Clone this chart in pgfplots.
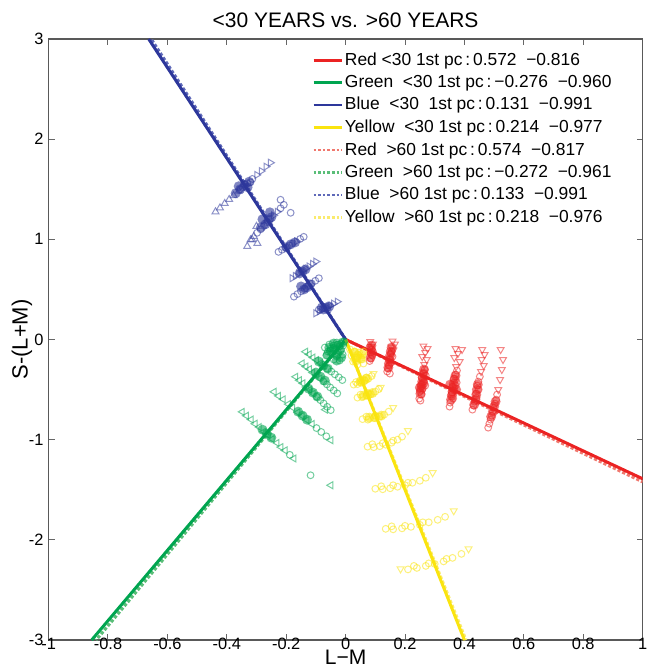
\documentclass[border=0pt]{standalone}
\usepackage{fontspec}
\setmainfont{Liberation Sans}
\usepackage{pgfplots}
\pgfplotsset{compat=1.18}
\definecolor{cR}{RGB}{235,35,35}
\definecolor{cG}{RGB}{0,165,80}
\definecolor{cB}{RGB}{45,55,155}
\definecolor{cY}{RGB}{250,228,15}
\definecolor{cRl}{RGB}{240,120,110}
\definecolor{cGl}{RGB}{90,190,120}
\definecolor{cBl}{RGB}{95,105,185}
\definecolor{cYl}{RGB}{250,235,110}
\pgfplotsset{
  mk/.style n args={2}{#1, only marks, forget plot, mark size=#2,
     mark options={draw=#1, fill=#1, draw opacity=0.55, fill opacity=0.15, line width=0.5pt}},
  core/.style n args={2}{#1, only marks, forget plot, mark=*, mark size=#2,
     mark options={draw=#1, draw opacity=0, fill=#1, fill opacity=0.6}},
}
\begin{document}
\begin{tikzpicture}
\begin{axis}[
  width=297pt, height=300.5pt, scale only axis,
  xmin=-1, xmax=1, ymin=-3, ymax=3,
  xtick={-1,-0.8,-0.6,-0.4,-0.2,0,0.2,0.4,0.6,0.8,1},
  xticklabels={-1,-0.8,-0.6,-0.4,-0.2,0,0.2,0.4,0.6,0.8,1},
  ytick={-3,-2,-1,0,1,2,3},
  yticklabels={-3,-2,-1,0,1,2,3},
  tick align=inside, major tick length=3pt,
  tick label style={font=\fontsize{8.2}{10}\selectfont},
  xticklabel style={inner sep=0.5pt, yshift=1.5pt},
  yticklabel style={xshift=1pt},
  axis line style={black!65, line width=0.6pt},
  tick style={black!60, line width=0.5pt},
  title={<30 YEARS vs. >60 YEARS},
  title style={font=\fontsize{10.5}{12}\selectfont, yshift=-4pt},
  xlabel={L−M}, ylabel={S-(L+M)},
  xlabel style={font=\fontsize{10.5}{12}\selectfont, inner sep=0pt, yshift=0.8pt},
  ylabel style={font=\fontsize{11}{13}\selectfont, yshift=-8.5pt},
  legend style={at={(0.44,0.985)}, anchor=north west, draw=none, fill=none,
     font=\fontsize{8.7}{9.5}\selectfont, row sep=1.5pt, inner sep=1pt,
     nodes={inner sep=1pt}},
  legend cell align=left,
  legend image code/.code={\draw[#1] (0cm,0cm) -- (14pt,0cm);},
]
% ---------- RED ----------
\addplot[core={cR}{2.5pt}] coordinates {
(0.087,-0.06) (0.085,-0.1) (0.088,-0.14) (0.084,-0.18)
(0.155,-0.08) (0.152,-0.12) (0.15,-0.16) (0.148,-0.2) (0.146,-0.24) (0.144,-0.28)
(0.264,-0.3) (0.262,-0.34) (0.26,-0.38) (0.258,-0.42) (0.256,-0.46) (0.254,-0.5) (0.252,-0.54) (0.262,-0.44) (0.25,-0.48)
(0.37,-0.36) (0.367,-0.4) (0.364,-0.44) (0.362,-0.48) (0.36,-0.52) (0.358,-0.56) (0.355,-0.6) (0.372,-0.5) (0.352,-0.45)
(0.445,-0.45) (0.442,-0.5) (0.44,-0.55) (0.437,-0.6) (0.433,-0.65)
(0.505,-0.62) (0.5,-0.67) (0.496,-0.72) (0.49,-0.77)
};
\addplot[mk={cR}{2pt}, mark=triangle, mark options={rotate=180, draw=cR, fill=cR, draw opacity=0.55, fill opacity=0.15, line width=0.5pt}] coordinates {
(0.083,-0.02) (0.092,-0.045) (0.086,-0.07)
(0.158,-0.015) (0.166,-0.045) (0.154,-0.075) (0.161,-0.105)
(0.262,-0.065) (0.276,-0.09) (0.268,-0.13) (0.258,-0.17) (0.273,-0.2) (0.265,-0.25)
(0.37,-0.09) (0.392,-0.1) (0.378,-0.14) (0.366,-0.18) (0.384,-0.22) (0.372,-0.27)
(0.46,-0.1) (0.468,-0.15) (0.458,-0.2) (0.465,-0.26) (0.456,-0.32)
(0.522,-0.1) (0.53,-0.2) (0.526,-0.3) (0.52,-0.4) (0.514,-0.5)
};
\addplot[mk={cR}{1.7pt}, mark=o] coordinates {
(0.088,-0.1) (0.084,-0.13) (0.09,-0.16) (0.085,-0.19) (0.081,-0.215) (0.092,-0.12) (0.08,-0.08)
(0.152,-0.14) (0.158,-0.17) (0.148,-0.2) (0.153,-0.23) (0.146,-0.26) (0.143,-0.29) (0.14,-0.32) (0.155,-0.12) (0.149,-0.34)
(0.266,-0.3) (0.262,-0.34) (0.256,-0.38) (0.264,-0.42) (0.254,-0.45) (0.26,-0.49) (0.25,-0.52) (0.256,-0.55) (0.248,-0.59) (0.27,-0.36) (0.268,-0.46) (0.252,-0.61)
(0.375,-0.31) (0.37,-0.35) (0.364,-0.39) (0.374,-0.43) (0.36,-0.47) (0.366,-0.51) (0.356,-0.55) (0.362,-0.59) (0.352,-0.63) (0.35,-0.67) (0.37,-0.46) (0.358,-0.53)
(0.452,-0.37) (0.447,-0.42) (0.443,-0.46) (0.448,-0.5) (0.439,-0.54) (0.441,-0.58) (0.434,-0.62) (0.431,-0.66) (0.427,-0.7)
(0.51,-0.55) (0.507,-0.6) (0.503,-0.64) (0.498,-0.68) (0.496,-0.72) (0.492,-0.76) (0.488,-0.8) (0.484,-0.84) (0.48,-0.88)
};
% ---------- GREEN ----------
\addplot[core={cG}{2.5pt}] coordinates {
(-0.01,-0.03) (-0.025,-0.06) (-0.04,-0.09) (-0.02,-0.11) (-0.05,-0.12) (-0.03,-0.15) (-0.015,-0.18) (-0.055,-0.08) (-0.04,-0.04) (-0.06,-0.15) (-0.03,-0.21)
(-0.09,-0.22) (-0.075,-0.26) (-0.06,-0.29) (-0.1,-0.33) (-0.085,-0.37) (-0.07,-0.41) (-0.125,-0.49) (-0.11,-0.53) (-0.095,-0.57) (-0.16,-0.72) (-0.145,-0.76) (-0.13,-0.8) (-0.28,-0.9) (-0.265,-0.94) (-0.25,-0.98)
};
\addplot[mk={cG}{2pt}, mark=triangle, mark options={rotate=90, draw=cG, fill=cG, draw opacity=0.55, fill opacity=0.15, line width=0.5pt}] coordinates {
(-0.135,-0.122) (-0.123,-0.148) (-0.11,-0.18) (-0.098,-0.205) (-0.085,-0.237) (-0.073,-0.262)
(-0.146,-0.238) (-0.134,-0.27) (-0.122,-0.296) (-0.111,-0.33) (-0.099,-0.356) (-0.087,-0.39)
(-0.168,-0.372) (-0.156,-0.407) (-0.144,-0.437) (-0.133,-0.474) (-0.121,-0.503) (-0.109,-0.54)
(-0.241,-0.522) (-0.226,-0.563) (-0.21,-0.597) (-0.193,-0.645) (-0.178,-0.679) (-0.161,-0.727) (-0.146,-0.762) (-0.13,-0.804) (-0.113,-0.844) (-0.05,-1.005)
(-0.348,-0.722) (-0.334,-0.761) (-0.318,-0.799) (-0.305,-0.841) (-0.291,-0.874) (-0.275,-0.92) (-0.261,-0.953) (-0.247,-0.994) (-0.231,-1.032) (-0.218,-1.074) (-0.204,-1.107) (-0.174,-1.188)
(-0.05,-1.455) (-0.068,-0.7)
};
\addplot[mk={cG}{1.7pt}, mark=o] coordinates {
(-0.005,-0.02) (-0.015,-0.04) (-0.03,-0.03) (-0.02,-0.07) (-0.04,-0.06) (-0.035,-0.1) (-0.05,-0.09) (-0.015,-0.1) (-0.025,-0.13) (-0.045,-0.14) (-0.06,-0.12) (-0.01,-0.15) (-0.03,-0.17) (-0.055,-0.05) (-0.07,-0.08) (-0.065,-0.16) (-0.04,-0.2) (-0.02,-0.21) (-0.008,-0.06) (-0.028,-0.05)
(-0.061,-0.292) (-0.048,-0.32) (-0.036,-0.348) (-0.023,-0.377) (-0.011,-0.405)
(-0.075,-0.418) (-0.063,-0.448) (-0.052,-0.478) (-0.04,-0.508) (-0.028,-0.538)
(-0.097,-0.572) (-0.085,-0.605) (-0.074,-0.638) (-0.062,-0.672) (-0.05,-0.705)
(-0.098,-0.884) (-0.082,-0.923) (-0.065,-0.966)
(-0.188,-1.151) (-0.118,-1.355)
};
% ---------- BLUE ----------
\addplot[core={cB}{2.5pt}] coordinates {
(-0.37,1.46) (-0.355,1.5) (-0.34,1.54) (-0.325,1.575) (-0.36,1.53) (-0.33,1.52)
(-0.27,1.15) (-0.26,1.19) (-0.25,1.22) (-0.28,1.2) (-0.255,1.27) (-0.285,1.12)
(-0.2,0.92) (-0.185,0.95) (-0.17,0.97)
(-0.155,0.66) (-0.145,0.68) (-0.135,0.7) (-0.14,0.5) (-0.13,0.52) (-0.12,0.55) (-0.15,0.53)
(-0.075,0.3) (-0.065,0.32) (-0.055,0.33) (-0.08,0.32)
};
\addplot[mk={cB}{2pt}, mark=triangle] coordinates {
(-0.438,1.275) (-0.423,1.314) (-0.407,1.358) (-0.392,1.398) (-0.377,1.437) (-0.36,1.481)
(-0.331,0.93) (-0.315,1.0) (-0.3,1.13) (-0.297,0.96) (-0.32,0.995) (-0.309,1.03)
};
\addplot[mk={cB}{2pt}, mark=triangle, mark options={rotate=-90, draw=cB, fill=cB, draw opacity=0.55, fill opacity=0.15, line width=0.5pt}] coordinates {
(-0.284,1.682) (-0.268,1.726) (-0.253,1.765) (-0.299,1.643)
(-0.18,0.612) (-0.169,0.635) (-0.157,0.66) (-0.146,0.683) (-0.134,0.707) (-0.123,0.73) (-0.111,0.755) (-0.10,0.778)
(-0.1,0.262) (-0.088,0.282) (-0.076,0.3) (-0.064,0.32) (-0.052,0.339) (-0.04,0.358) (-0.028,0.378)
(-0.242,1.24) (-0.23,1.275) (-0.165,0.98)
};
\addplot[mk={cB}{1.7pt}, mark=o] coordinates {
(-0.346,1.52) (-0.331,1.559) (-0.314,1.603) (-0.34,1.55) (-0.32,1.57) (-0.355,1.5)
(-0.298,1.065) (-0.286,1.1) (-0.275,1.135) (-0.264,1.17) (-0.253,1.205) (-0.219,1.31) (-0.208,1.345) (-0.219,1.395) (-0.185,1.265)
(-0.226,0.875) (-0.214,0.896) (-0.201,0.919) (-0.189,0.94) (-0.178,0.961) (-0.153,1.004) (-0.141,1.025)
(-0.174,0.428) (-0.162,0.454) (-0.15,0.481) (-0.138,0.507) (-0.126,0.533) (-0.114,0.559) (-0.102,0.586) (-0.09,0.612)
(-0.09,0.3) (-0.06,0.29)
};
% ---------- YELLOW ----------
\addplot[core={cY}{2.5pt}] coordinates {
(0.03,-0.13) (0.04,-0.16) (0.05,-0.19) (0.035,-0.21) (0.055,-0.15)
(0.05,-0.42) (0.06,-0.41) (0.07,-0.39) (0.06,-0.56) (0.075,-0.55) (0.09,-0.535)
(0.08,-0.78) (0.1,-0.775) (0.12,-0.76)
};
\addplot[mk={cY}{2pt}, mark=triangle, mark options={rotate=180, draw=cY, fill=cY, draw opacity=0.55, fill opacity=0.15, line width=0.5pt}] coordinates {
(0.094,-0.34) (0.16,-0.68) (0.21,-0.91) (0.293,-1.33) (0.364,-1.71) (0.414,-2.09) (0.185,-2.29)
(0.118,-0.478)
};
\addplot[mk={cY}{1.7pt}, mark=o, mark options={draw=cY, fill=cY, draw opacity=0.55, fill opacity=0.18, line width=0.5pt}] coordinates {
(0.015,-0.1) (0.03,-0.12) (0.045,-0.13) (0.06,-0.12) (0.02,-0.16) (0.04,-0.18) (0.055,-0.2) (0.025,-0.22) (0.04,-0.25) (0.06,-0.24)
(0.027,-0.45) (0.04,-0.445) (0.052,-0.43) (0.065,-0.41) (0.077,-0.39) (0.088,-0.365) (0.035,-0.425) (0.05,-0.41) (0.07,-0.38)
(0.04,-0.58) (0.055,-0.575) (0.07,-0.56) (0.085,-0.545) (0.1,-0.52) (0.112,-0.495) (0.05,-0.55) (0.075,-0.535)
(0.057,-0.795) (0.075,-0.8) (0.095,-0.785) (0.115,-0.77) (0.13,-0.75) (0.145,-0.72) (0.07,-0.77) (0.1,-0.76)
(0.074,-1.07) (0.095,-1.075) (0.115,-1.065) (0.135,-1.05) (0.155,-1.03) (0.175,-1.0) (0.19,-0.97) (0.09,-1.045) (0.125,-1.035) (0.16,-1.01)
(0.10,-1.49) (0.125,-1.495) (0.15,-1.485) (0.175,-1.47) (0.2,-1.455) (0.225,-1.43) (0.25,-1.41) (0.27,-1.38) (0.12,-1.465) (0.16,-1.455) (0.21,-1.43)
(0.135,-1.89) (0.16,-1.895) (0.19,-1.885) (0.22,-1.87) (0.25,-1.85) (0.28,-1.825) (0.31,-1.8) (0.335,-1.77) (0.155,-1.865) (0.2,-1.86) (0.26,-1.825)
(0.21,-2.295) (0.24,-2.28) (0.27,-2.26) (0.3,-2.24) (0.33,-2.215) (0.36,-2.18) (0.39,-2.14) (0.23,-2.26) (0.28,-2.235) (0.34,-2.19)
};
% ---------- >60 lines (dotted) ----------
\addplot[cRl, line width=1.6pt, densely dotted, forget plot] coordinates {(0,0) (1,-1.42)};
\addplot[cGl, line width=1.6pt, densely dotted, forget plot] coordinates {(0,0) (-0.84,-3)};
\addplot[cBl, line width=1.6pt, densely dotted, forget plot] coordinates {(0,0) (-0.655,3)};
\addplot[cYl, line width=1.6pt, densely dotted, forget plot] coordinates {(0,0) (0.405,-3)};
% ---------- <30 lines (solid) ----------
\addplot[cR, line width=1.5pt, forget plot] coordinates {(0,0) (1,-1.39)};
\addplot[cG, line width=1.5pt, forget plot] coordinates {(0,0) (-0.855,-3)};
\addplot[cB, line width=1.5pt, forget plot] coordinates {(0,0) (-0.663,3)};
\addplot[cY, line width=1.5pt, forget plot] coordinates {(0,0) (0.40,-3)};
% ---------- legend ----------
\addlegendimage{cR, line width=1.3pt}
\addlegendentry{Red <30 1st pc\,:\,0.572\ \ −0.816}
\addlegendimage{cG, line width=1.3pt}
\addlegendentry{Green\ \ <30 1st pc\,:\,−0.276\ \ −0.960}
\addlegendimage{cB, line width=1.3pt}
\addlegendentry{Blue\ \ <30\ \ 1st pc\,:\,0.131\ \ −0.991}
\addlegendimage{cY, line width=1.3pt}
\addlegendentry{Yellow\ \ <30 1st pc\,:\,0.214\ \ −0.977}
\addlegendimage{cRl, line width=1.3pt, densely dotted}
\addlegendentry{Red\ \ >60 1st pc\,:\,0.574\ \ −0.817}
\addlegendimage{cGl, line width=1.3pt, densely dotted}
\addlegendentry{Green\ \ >60 1st pc\,:\,−0.272\ \ −0.961}
\addlegendimage{cBl, line width=1.3pt, densely dotted}
\addlegendentry{Blue\ \ >60 1st pc\,:\,0.133\ \ −0.991}
\addlegendimage{cYl, line width=1.3pt, densely dotted}
\addlegendentry{Yellow\ \ >60 1st pc\,:\,0.218\ \ −0.976}
\coordinate (BL) at (rel axis cs:-0.0818,-0.0532);
\coordinate (TR) at (rel axis cs:1.0057,1.0649);
\end{axis}
\pgfresetboundingbox
\path[use as bounding box] (BL) rectangle (TR);
\end{tikzpicture}
\end{document}
